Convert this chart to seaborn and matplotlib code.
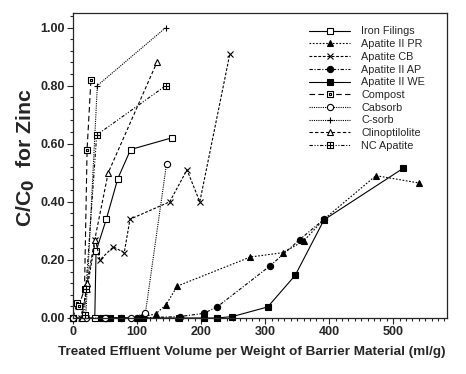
import numpy as np
import pandas as pd
import matplotlib
matplotlib.use("Agg")
import matplotlib.pyplot as plt
from matplotlib.path import Path
from matplotlib.ticker import MultipleLocator, FormatStrFormatter
import seaborn as sns

# data (x: ml/g, y: C/C0)
iron_x = [0, 34, 36, 52, 70, 90, 154]
iron_y = [0.0, 0.0, 0.23, 0.34, 0.48, 0.58, 0.62]

pr_x = [55, 100, 129, 145, 163, 277, 328, 360, 392, 473, 540]
pr_y = [0.0, 0.0, 0.014, 0.045, 0.11, 0.21, 0.225, 0.265, 0.34, 0.49, 0.465]

cb_x = [12, 22, 35, 42, 63, 80, 89, 151, 178, 198, 245]
cb_y = [0.0, 0.10, 0.27, 0.20, 0.245, 0.225, 0.34, 0.40, 0.51, 0.40, 0.91]

ap_x = [52, 75, 100, 167, 204, 225, 308, 354, 392]
ap_y = [0.0, 0.0, 0.0, 0.005, 0.016, 0.038, 0.18, 0.27, 0.34]

we_x = [45, 57, 75, 110, 165, 204, 225, 249, 304, 347, 392, 516]
we_y = [0.0, 0.0, 0.0, 0.0, 0.0, 0.0, 0.0, 0.005, 0.038, 0.147, 0.338, 0.516]

compost_x = [0, 6, 9, 18, 22, 28]
compost_y = [0.0, 0.05, 0.04, 0.10, 0.58, 0.82]

cabsorb_x = [0, 20, 50, 90, 113, 146]
cabsorb_y = [0.0, 0.0, 0.0, 0.0, 0.016, 0.53]

csorb_x = [20, 38, 145]
csorb_y = [0.01, 0.80, 1.00]

clino_x = [14, 22, 34, 55, 131]
clino_y = [0.0, 0.12, 0.27, 0.50, 0.88]

nc_x = [18, 20, 37, 145]
nc_y = [0.01, 0.10, 0.63, 0.80]

# square with a dot, square with a cross
sq = [(-1, -1), (1, -1), (1, 1), (-1, 1), (-1, -1)]
dot = [(-0.2, -0.2), (0.2, -0.2), (0.2, 0.2), (-0.2, 0.2), (-0.2, -0.2)]
box_dot = Path(sq + dot, [Path.MOVETO] + [Path.LINETO] * 3 + [Path.CLOSEPOLY]
               + [Path.MOVETO] + [Path.LINETO] * 3 + [Path.CLOSEPOLY])
box_plus = Path(sq + [(-1, 0), (1, 0), (0, -1), (0, 1)],
                [Path.MOVETO] + [Path.LINETO] * 3 + [Path.CLOSEPOLY]
                + [Path.MOVETO, Path.LINETO, Path.MOVETO, Path.LINETO])

series = [
    ("Iron Filings", iron_x, iron_y, "-", "s", "white"),
    ("Apatite II PR", pr_x, pr_y, (0, (1.5, 1.5)), "^", "black"),
    ("Apatite CB", cb_x, cb_y, (0, (2.5, 1.5)), "x", "black"),
    ("Apatite II AP", ap_x, ap_y, (0, (3, 1.5, 1, 1.5)), "o", "black"),
    ("Apatite II WE", we_x, we_y, "-", "s", "black"),
    ("Compost", compost_x, compost_y, (0, (5, 3)), box_dot, "white"),
    ("Cabsorb", cabsorb_x, cabsorb_y, (0, (1, 1)), "o", "white"),
    ("C-sorb", csorb_x, csorb_y, (0, (1, 1)), "+", "black"),
    ("Clinoptilolite", clino_x, clino_y, (0, (3, 2)), "^", "white"),
    ("NC Apatite", nc_x, nc_y, (0, (3, 1.5, 1, 1.5, 1, 1.5)), box_plus, "white"),
]

sns.set_style("ticks")
plt.rcParams['font.family'] = ['Liberation Sans', 'DejaVu Sans']

fig = plt.figure(figsize=(4.66, 3.74), dpi=100)
ax = fig.add_axes([73 / 466, 1 - 318 / 374, (447 - 73) / 466, (318 - 13) / 374])

for name, xs, ys, ls, mk, fc in series:
    df = pd.DataFrame({"x": xs, "y": ys})
    size = 4.8 if isinstance(mk, Path) else 4.5
    sns.lineplot(data=df, x="x", y="y", ax=ax, sort=False, estimator=None,
                 color="black", linewidth=0.8, linestyle=ls, marker=mk,
                 markersize=size, markerfacecolor=fc, markeredgecolor="black",
                 markeredgewidth=0.8, label=name, clip_on=False)

ax.set_xlim(0, 584)
ax.set_ylim(0, 1.05)
ax.xaxis.set_major_locator(MultipleLocator(100))
ax.xaxis.set_minor_locator(MultipleLocator(10))
ax.yaxis.set_major_locator(MultipleLocator(0.2))
ax.yaxis.set_minor_locator(MultipleLocator(0.04))
ax.yaxis.set_major_formatter(FormatStrFormatter("%.2f"))
ax.tick_params(which="major", direction="out", length=4, width=0.8,
               labelsize=9, pad=2)
ax.tick_params(which="minor", direction="out", length=2.5, width=0.8)
for lab in ax.get_xticklabels() + ax.get_yticklabels():
    lab.set_fontweight("bold")
for sp in ax.spines.values():
    sp.set_linewidth(0.9)
    sp.set_visible(True)

ax.set_xlabel("Treated Effluent Volume per Weight of Barrier Material (ml/g)",
              fontsize=9.7, fontweight="bold")
ax.xaxis.set_label_coords(0.477, -0.092)
ax.set_ylabel(r"C/C$_\mathbf{0}$  for Zinc", fontsize=15.3, fontweight="bold")
ax.yaxis.set_label_coords(-0.096, 0.525)

leg = ax.legend(loc="upper left", bbox_to_anchor=(0.62, 0.97), frameon=False,
                fontsize=7.8, handlelength=3.8, handletextpad=1.0,
                labelspacing=0.25, borderaxespad=0)

fig.savefig("out.png", dpi=100)
